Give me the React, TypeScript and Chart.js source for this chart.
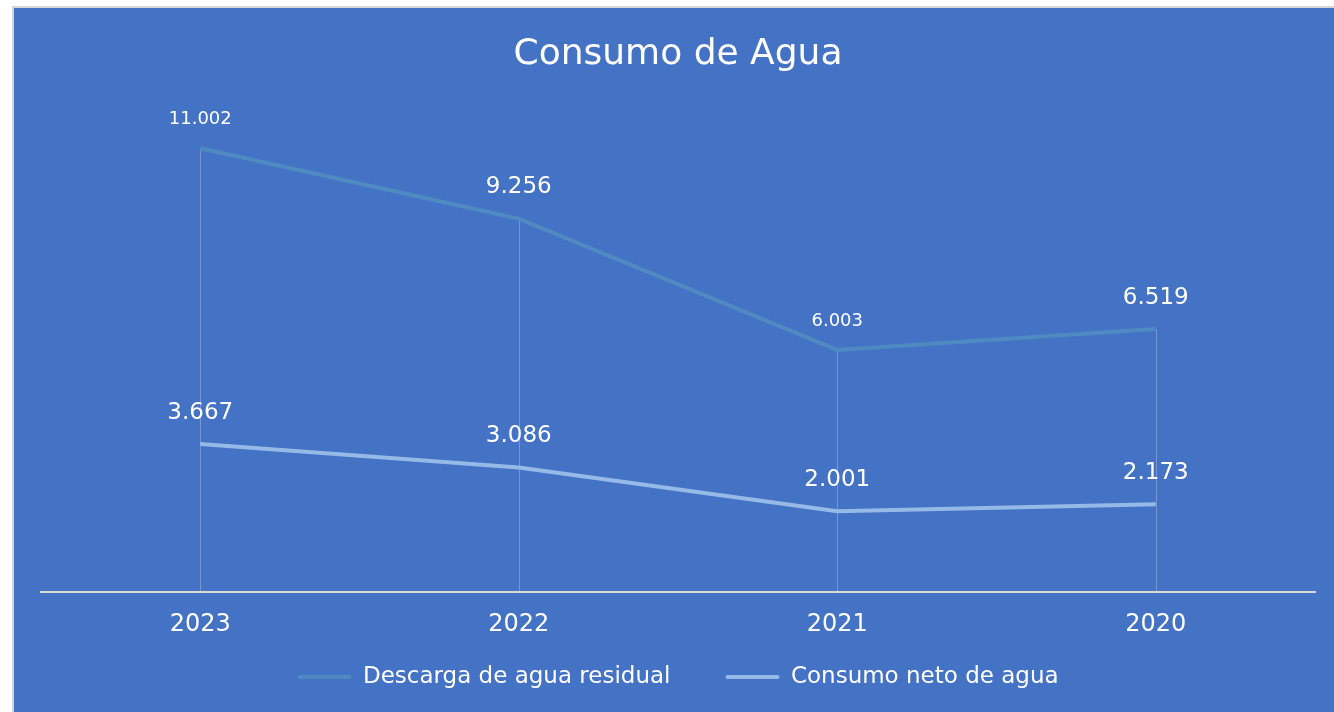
import React, { useEffect, useRef } from "react";
import { Chart, registerables } from "chart.js";

Chart.register(...registerables);

// ---- data ----
const categories = ["2023", "2022", "2021", "2020"];
const descargaValues = [11.002, 9.256, 6.003, 6.519];
const consumoValues = [3.667, 3.086, 2.001, 2.173];
const seriesNames = ["Descarga de agua residual", "Consumo neto de agua"];
const chartTitle = "Consumo de Agua";

// ---- style ----
const FONT = "'DejaVu Sans', 'Noto Sans', sans-serif";
const BG = "#4472C4";
const DESCARGA_COLOR = "rgb(80,138,194)";
const CONSUMO_COLOR = "rgb(150,186,231)";
const descargaLabelSizes = [18, 23, 18, 23];
const consumoLabelSizes = [23, 23, 23, 23];

const fmt = (v: number) => v.toFixed(3);

const dropLinesPlugin = {
  id: "dropLines",
  beforeDatasetsDraw(chart: any) {
    const { ctx, scales } = chart;
    const xs = scales.x;
    const ys = scales.y;
    const base = ys.getPixelForValue(0);
    ctx.save();
    ctx.strokeStyle = "rgba(225,225,235,0.32)";
    ctx.lineWidth = 1;
    categories.forEach((_, i) => {
      const top = Math.max(descargaValues[i], consumoValues[i]);
      const px = Math.round(xs.getPixelForValue(i)) + 0.5;
      ctx.beginPath();
      ctx.moveTo(px, ys.getPixelForValue(top));
      ctx.lineTo(px, base);
      ctx.stroke();
    });
    ctx.restore();
  },
};

const dataLabelsPlugin = {
  id: "dataLabelsCustom",
  afterDatasetsDraw(chart: any) {
    const { ctx } = chart;
    const sizes = [descargaLabelSizes, consumoLabelSizes];
    ctx.save();
    ctx.fillStyle = "#FFFFFF";
    ctx.textAlign = "center";
    ctx.textBaseline = "middle";
    chart.data.datasets.forEach((ds: any, di: number) => {
      const meta = chart.getDatasetMeta(di);
      meta.data.forEach((pt: any, i: number) => {
        const size = sizes[di][i];
        ctx.font = `${size}px ${FONT}`;
        ctx.fillText(fmt(ds.data[i]), pt.x, pt.y - (20 + size / 2));
      });
    });
    ctx.restore();
  },
};

export default function App() {
  const canvasRef = useRef<HTMLCanvasElement>(null);

  useEffect(() => {
    if (!canvasRef.current) return;
    const chart = new Chart(canvasRef.current, {
      type: "line",
      data: {
        labels: categories,
        datasets: [
          {
            label: seriesNames[0],
            data: descargaValues,
            borderColor: DESCARGA_COLOR,
            backgroundColor: DESCARGA_COLOR,
            borderWidth: 4,
            pointRadius: 0,
            tension: 0,
            fill: false,
          },
          {
            label: seriesNames[1],
            data: consumoValues,
            borderColor: CONSUMO_COLOR,
            backgroundColor: CONSUMO_COLOR,
            borderWidth: 4,
            pointRadius: 0,
            tension: 0,
            fill: false,
          },
        ],
      },
      options: {
        responsive: false,
        animation: false,
        devicePixelRatio: 1,
        layout: { padding: { left: 41, right: 19, top: 0, bottom: 13.5 } },
        plugins: {
          title: {
            display: true,
            text: chartTitle,
            color: "#FFFFFF",
            font: { family: FONT, size: 36, weight: "normal" },
            padding: { top: 33, bottom: 31.8 },
          },
          legend: {
            display: true,
            position: "bottom",
            labels: {
              color: "#FFFFFF",
              font: { family: FONT, size: 23 },
              boxWidth: 54,
              boxHeight: 4,
              padding: 55,
              useBorderRadius: true,
              borderRadius: 2,
              generateLabels(chart: any) {
                const items = Chart.defaults.plugins.legend.labels.generateLabels(chart);
                return items.map((it: any) => ({ ...it, lineWidth: 0, strokeStyle: "transparent" }));
              },
            },
          },
          tooltip: { enabled: false },
        },
        scales: {
          x: {
            type: "category",
            offset: true,
            grid: { display: false, drawTicks: false },
            border: { display: true, color: "#D9D9D9", width: 2 },
            ticks: {
              color: "#FFFFFF",
              font: { family: FONT, size: 24, lineHeight: 0.01 },
              mirror: true,
              padding: -33,
            },
            afterFit(scale: any) {
              scale.height = 18.5;
            },
          },
          y: {
            display: false,
            min: 0,
            max: 12,
          },
        },
      },
      plugins: [dropLinesPlugin, dataLabelsPlugin],
    } as any);
    return () => chart.destroy();
  }, []);

  return (
    <div
      style={{
        position: "fixed",
        left: 0,
        top: 0,
        width: 1334,
        height: 712,
        background: "#FFFFFF",
        overflow: "hidden",
      }}
    >
      <div
        style={{
          position: "absolute",
          left: 12,
          top: 6,
          width: 1340,
          height: 720,
          background: BG,
          borderTop: "2px solid #D6D6D6",
          borderLeft: "2px solid #D6D6D6",
        }}
      />
      <canvas
        ref={canvasRef}
        width={1334}
        height={712}
        style={{ position: "absolute", left: 0, top: 0, width: 1334, height: 712 }}
      />
    </div>
  );
}
